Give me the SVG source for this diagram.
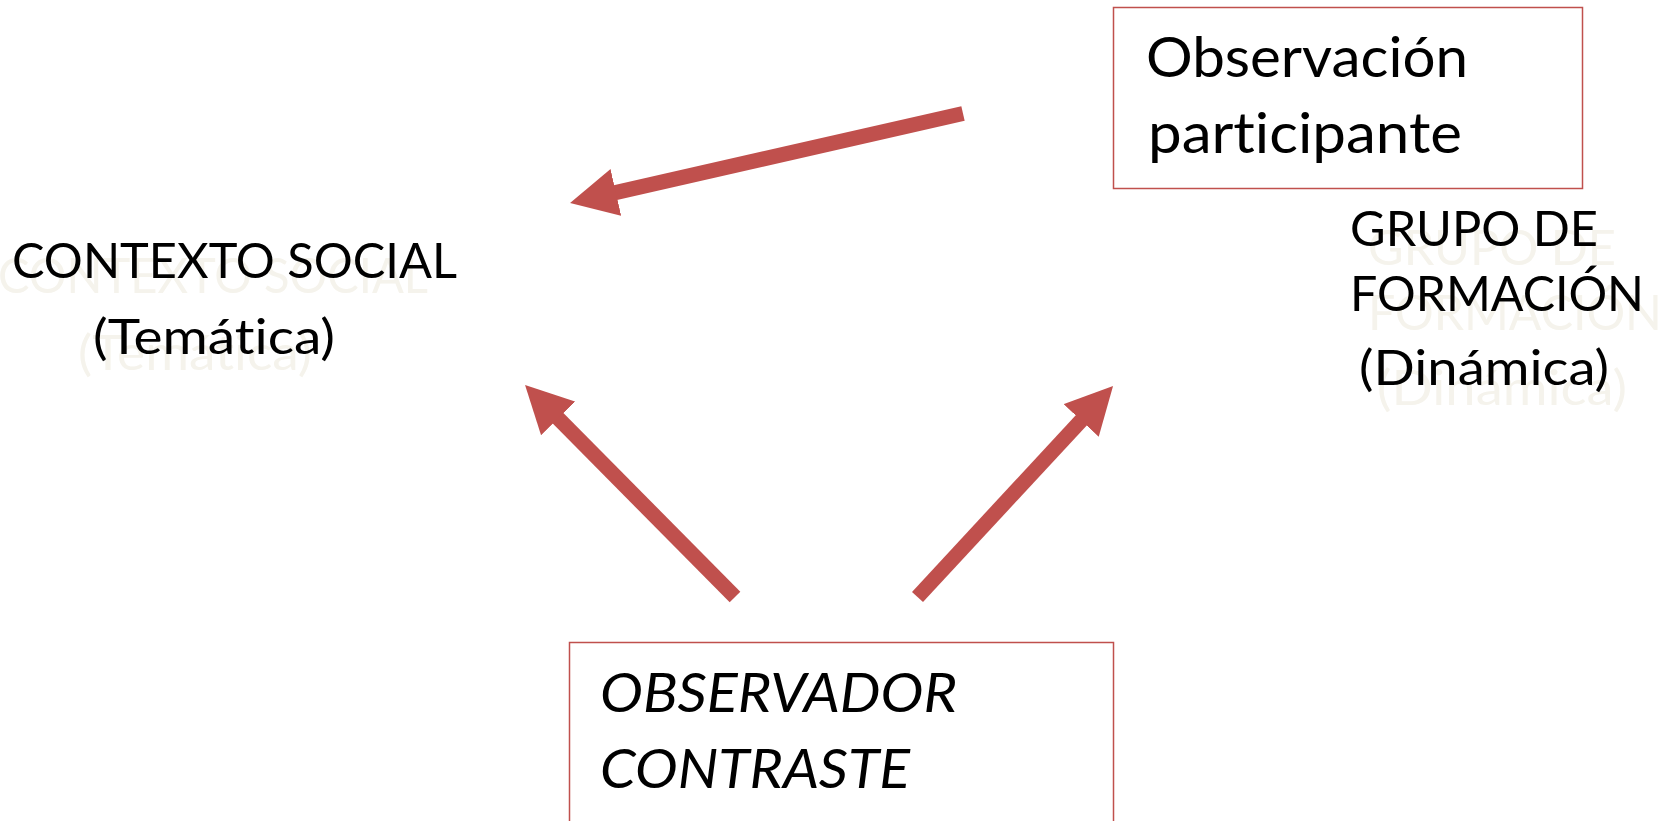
<svg xmlns="http://www.w3.org/2000/svg" width="1673" height="821" viewBox="0 0 1673 821">
<defs>
<style>
.t{font-family:Lato,"Open Sans","Liberation Sans",sans-serif;fill:#000000;font-variant-ligatures:none;font-feature-settings:"liga" 0,"clig" 0}
.g{font-family:Lato,"Open Sans","Liberation Sans",sans-serif;fill:#F5F3EC;font-variant-ligatures:none;font-feature-settings:"liga" 0,"clig" 0}
.box{fill:#FFFFFF;stroke:#C0504D;stroke-width:1.5}
.arr{stroke:#C0504D;stroke-width:15;fill:none;stroke-linecap:butt;marker-end:url(#head)}
</style>
<marker id="head" markerUnits="userSpaceOnUse" viewBox="0 0 47 48" refX="5" refY="24" markerWidth="47" markerHeight="48" orient="auto">
<path d="M0,0 L47,24 L0,48 Z" fill="#C0504D"/>
</marker>
</defs>
<rect width="1673" height="821" fill="#FFFFFF"/>

<g id="contexto-social">
<text class="g" font-size="49" x="-2" y="293" textLength="430" lengthAdjust="spacingAndGlyphs">CONTEXTO SOCIAL</text>
<text class="g" font-size="49" x="78" y="370" textLength="234" lengthAdjust="spacingAndGlyphs">(Temática)</text>
<text class="t" font-size="49" x="12" y="278" textLength="445" lengthAdjust="spacingAndGlyphs">CONTEXTO SOCIAL</text>
<text class="t" font-size="49" x="93" y="354" textLength="242" lengthAdjust="spacingAndGlyphs">(Temática)</text>
</g>

<g id="grupo-formacion">
<text class="g" font-size="49" x="1368" y="265" textLength="248" lengthAdjust="spacingAndGlyphs">GRUPO DE</text>
<text class="g" font-size="49" x="1368" y="330" textLength="294" lengthAdjust="spacingAndGlyphs">FORMACIÓN</text>
<text class="g" font-size="49" x="1377" y="405" textLength="250" lengthAdjust="spacingAndGlyphs">(Dinámica)</text>
<text class="t" font-size="49" x="1350" y="246" textLength="248" lengthAdjust="spacingAndGlyphs">GRUPO DE</text>
<text class="t" font-size="49" x="1350" y="311" textLength="294" lengthAdjust="spacingAndGlyphs">FORMACIÓN</text>
<text class="t" font-size="49" x="1359" y="385" textLength="250" lengthAdjust="spacingAndGlyphs">(Dinámica)</text>
</g>

<g id="observacion-participante">
<rect class="box" x="1113.5" y="7.5" width="469" height="181"/>
<text class="t" font-size="57" x="1146" y="77" textLength="322" lengthAdjust="spacingAndGlyphs">Observación</text>
<text class="t" font-size="57" x="1148" y="153" textLength="314" lengthAdjust="spacingAndGlyphs">participante</text>
</g>

<g id="observador-contraste">
<rect class="box" x="569.5" y="642.5" width="544" height="200"/>
<text class="t" font-size="54" font-style="italic" x="600" y="712" textLength="357" lengthAdjust="spacingAndGlyphs">OBSERVADOR</text>
<text class="t" font-size="54" font-style="italic" x="600" y="788" textLength="310" lengthAdjust="spacingAndGlyphs">CONTRASTE</text>
</g>

<g id="connectors">
<line class="arr" x1="963" y1="113.5" x2="611" y2="193.6"/>
<line class="arr" x1="735" y1="597" x2="554.6" y2="414.8"/>
<line class="arr" x1="917.5" y1="597" x2="1084.5" y2="416.8"/>
</g>
</svg>
